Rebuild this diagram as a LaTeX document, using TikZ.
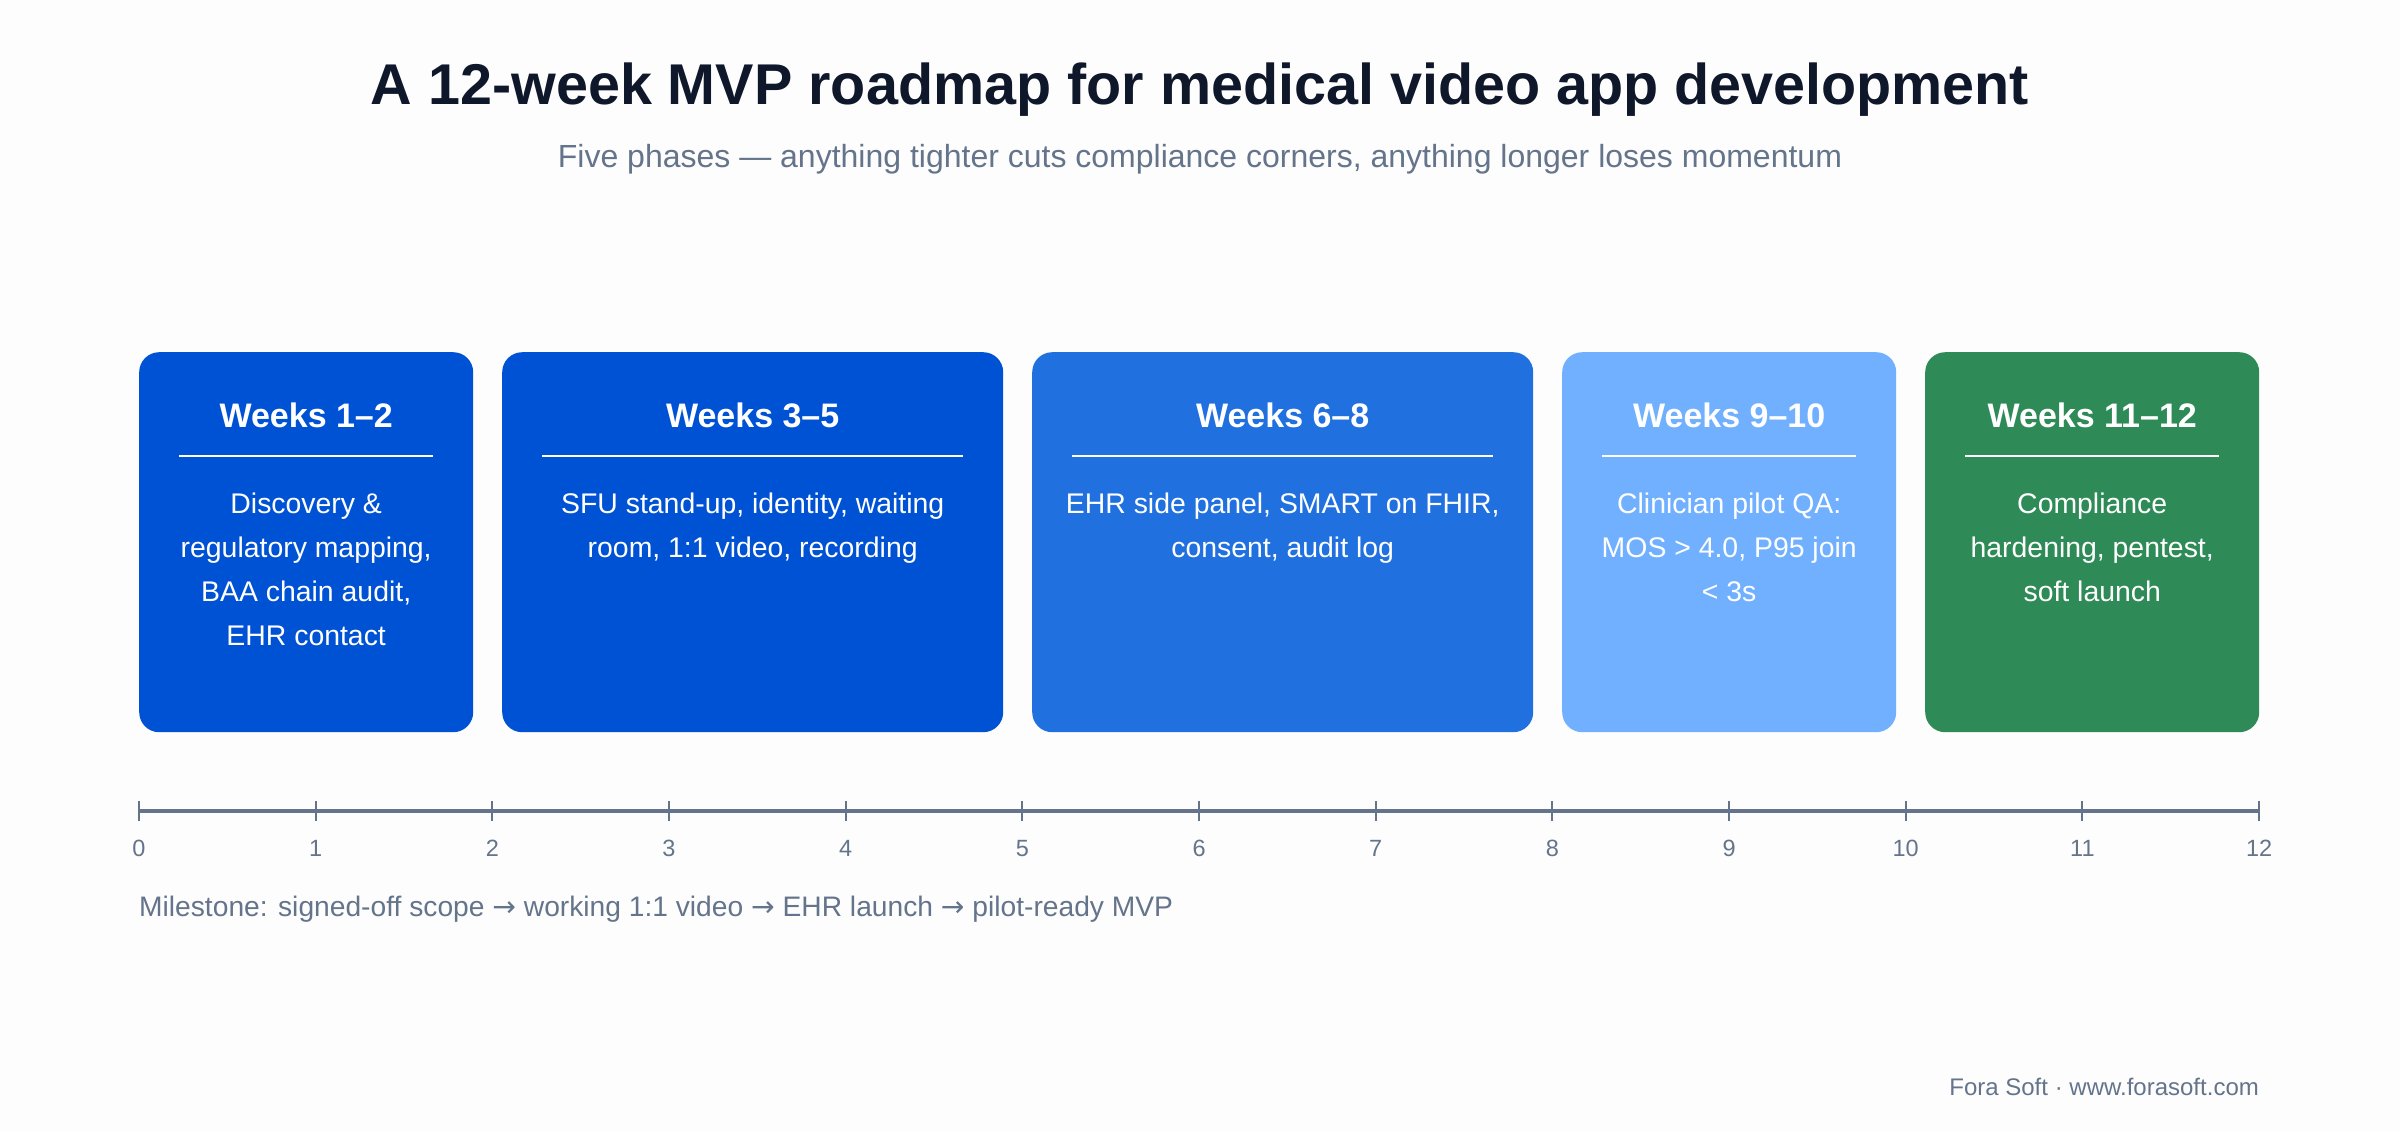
\documentclass[tikz,border=0pt]{standalone}
\usepackage{fontspec}
\setmainfont{Liberation Sans}
\newfontfamily\arrowfont{DejaVu Sans}
\definecolor{bgc}{HTML}{FDFDFD}
\definecolor{titlec}{HTML}{0F172A}
\definecolor{slate}{HTML}{64748B}
\definecolor{cA}{HTML}{0052D4}
\definecolor{cB}{HTML}{2070E0}
\definecolor{cC}{HTML}{70B0FF}
\definecolor{cD}{HTML}{2E8B57}
\newcommand{\rarr}{{\arrowfont →}}
\tikzset{
  phasebox/.style={draw=none, rounded corners=20pt, minimum height=380pt, anchor=north west, inner sep=0pt},
  phasehead/.style={text=white, anchor=base, font=\fontsize{34}{40}\selectfont\bfseries, inner sep=0pt},
  phasebody/.style={text=white, anchor=north, align=center, font=\fontsize{28.4}{44}\selectfont, inner sep=0pt},
  sepline/.style={draw=white, line width=2pt},
  axisline/.style={draw=slate, line width=3.2pt},
  tickline/.style={draw=slate, line width=1.8pt},
  ticklabel/.style={text=slate, anchor=base, font=\fontsize{23.5}{26}\selectfont, inner sep=0pt},
}
\begin{document}
\begin{tikzpicture}[x=1pt,y=-1pt]
\fill[bgc] (0,0) rectangle (2400,1132);
\useasboundingbox (0,0) rectangle (2400,1132);

\node[anchor=base, text=titlec, font=\fontsize{57.5}{60}\selectfont\bfseries, inner sep=0pt] (title) at (1200,104) {A 12-week MVP roadmap for medical video app development};
\node[anchor=base, text=slate, font=\fontsize{32}{34}\selectfont, inner sep=0pt] (subtitle) at (1200,167) {Five phases — anything tighter cuts compliance corners, anything longer loses momentum};

% boxes
\node[phasebox, fill=cA, minimum width=334pt] (b1) at (139,352) {};
\node[phasebox, fill=cA, minimum width=501pt] (b2) at (502,352) {};
\node[phasebox, fill=cB, minimum width=501pt] (b3) at (1032,352) {};
\node[phasebox, fill=cC, minimum width=334pt] (b4) at (1562,352) {};
\node[phasebox, fill=cD, minimum width=334pt] (b5) at (1925,352) {};

\foreach \b/\h/\t in {b1/{Weeks 1–2}/{Discovery \&\\regulatory mapping,\\BAA chain audit,\\EHR contact},
                      b2/{Weeks 3–5}/{SFU stand-up, identity, waiting\\room, 1:1 video, recording},
                      b3/{Weeks 6–8}/{EHR side panel, SMART on FHIR,\\consent, audit log},
                      b4/{Weeks 9–10}/{Clinician pilot QA:\\MOS > 4.0, P95 join\\< 3s},
                      b5/{Weeks 11–12}/{Compliance\\hardening, pentest,\\soft launch}} {
  \node[phasehead] (\b-head) at ([yshift=-75pt]\b.north) {\h};
  \draw[sepline] ([xshift=40pt,yshift=-104pt]\b.north west) coordinate (\b-sl) -- ([xshift=-40pt,yshift=-104pt]\b.north east) coordinate (\b-sr);
  \node[phasebody] (\b-body) at ([yshift=-130pt]\b.north) {\strut\t};
}

% axis
\foreach \i in {0,...,12} {
  \coordinate (t\i) at ({139+\i*176.67},811);
}
\draw[axisline] (t0) -- (t12);
\foreach \i in {0,...,12} {
  \draw[tickline] ([yshift=10pt]t\i) -- ([yshift=-10pt]t\i);
  \node[ticklabel] (l\i) at ([yshift=-45pt]t\i) {\i};
}

\node[anchor=base west, text=slate, font=\fontsize{28.2}{30}\selectfont, inner sep=0pt] (milestone) at (139,916) {Milestone: signed-off scope \rarr{} working 1:1 video \rarr{} EHR launch \rarr{} pilot-ready MVP};

\node[anchor=base east, text=slate, font=\fontsize{24}{26}\selectfont, inner sep=0pt] (footer) at (2259,1095) {Fora Soft · www.forasoft.com};
\end{tikzpicture}
\end{document}
